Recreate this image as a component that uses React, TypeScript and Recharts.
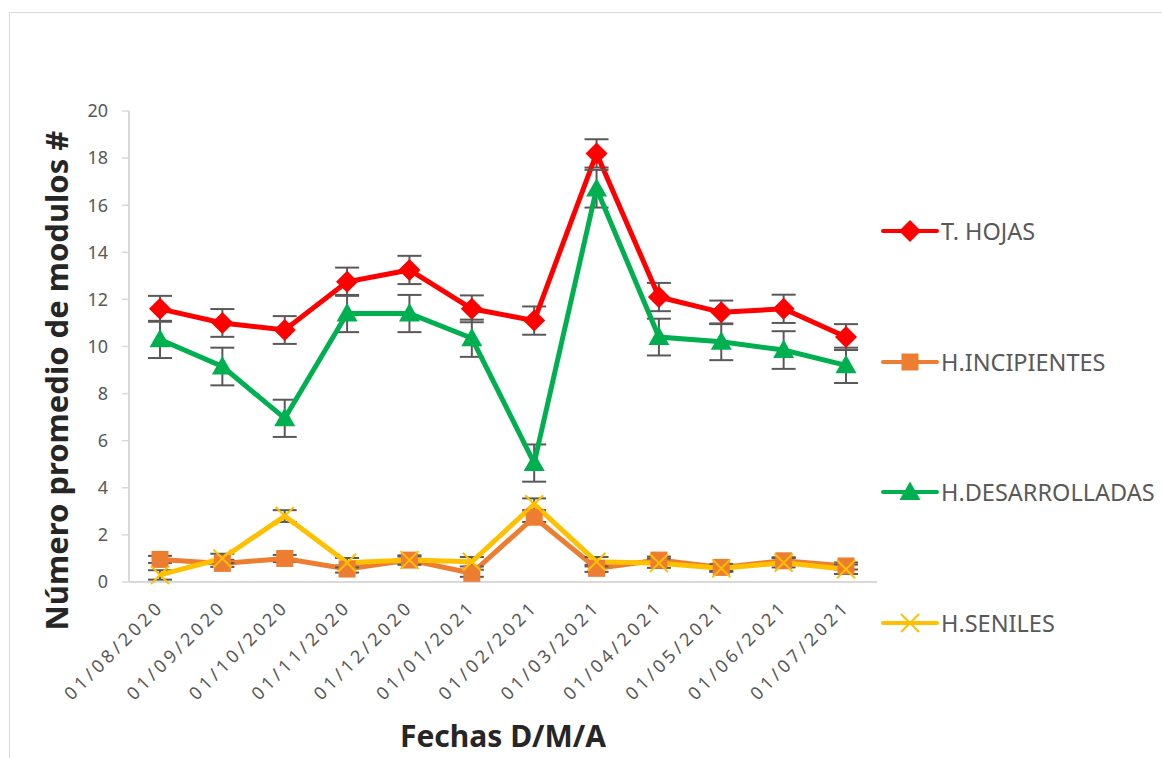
import React from 'react';
import { LineChart, Line, XAxis, YAxis, ErrorBar, Label } from 'recharts';

// fechas de muestreo
const fechas = [
  '01/08/2020', '01/09/2020', '01/10/2020', '01/11/2020', '01/12/2020', '01/01/2021',
  '01/02/2021', '01/03/2021', '01/04/2021', '01/05/2021', '01/06/2021', '01/07/2021',
];

const tHojas = [11.6, 11.0, 10.7, 12.75, 13.25, 11.6, 11.1, 18.2, 12.1, 11.45, 11.6, 10.4];
const tHojasErr = [0.55, 0.59, 0.59, 0.6, 0.6, 0.57, 0.6, 0.6, 0.6, 0.5, 0.6, 0.55];

const hIncipientes = [0.96, 0.79, 1.0, 0.55, 0.93, 0.37, 2.75, 0.58, 0.93, 0.62, 0.9, 0.68];
const hIncipientesErr = [0.15, 0.15, 0.15, 0.15, 0.15, 0.15, 0.2, 0.15, 0.15, 0.15, 0.15, 0.15];

const hDesarrolladas = [10.3, 9.15, 6.95, 11.4, 11.4, 10.35, 5.05, 16.7, 10.4, 10.2, 9.85, 9.2];
const hDesarrolladasErr = [0.79, 0.8, 0.79, 0.79, 0.79, 0.79, 0.79, 0.8, 0.78, 0.78, 0.8, 0.75];

const hSeniles = [0.3, 1.0, 2.8, 0.82, 0.93, 0.86, 3.3, 0.86, 0.8, 0.58, 0.82, 0.54];
const hSenilesErr = [0.2, 0.2, 0.25, 0.2, 0.2, 0.2, 0.25, 0.2, 0.2, 0.15, 0.2, 0.2];

const yTicks = [0, 2, 4, 6, 8, 10, 12, 14, 16, 18, 20];

const data = fechas.map((fecha, i) => ({
  fecha,
  hojas: tHojas[i],
  hojasErr: tHojasErr[i],
  incip: hIncipientes[i],
  incipErr: hIncipientesErr[i],
  desar: hDesarrolladas[i],
  desarErr: hDesarrolladasErr[i],
  senil: hSeniles[i],
  senilErr: hSenilesErr[i],
}));

const RED = '#ff0000';
const ORANGE = '#ed7d31';
const GREEN = '#00b050';
const YELLOW = '#ffc000';
const GRAY_TXT = '#595959';
const AXIS = '#d9d9d9';
const FONT = '"Noto Sans", "Open Sans", sans-serif';

const Diamond = (props: any) => {
  const { cx, cy } = props;
  if (cx == null || cy == null) return null;
  const r = 11;
  return <path d={`M${cx},${cy - r}L${cx + r},${cy}L${cx},${cy + r}L${cx - r},${cy}Z`} fill={RED} />;
};

const Square = (props: any) => {
  const { cx, cy } = props;
  if (cx == null || cy == null) return null;
  const r = 8.5;
  return <rect x={cx - r} y={cy - r} width={2 * r} height={2 * r} fill={ORANGE} />;
};

const Triangle = (props: any) => {
  const { cx, cy } = props;
  if (cx == null || cy == null) return null;
  const r = 10.5;
  return <path d={`M${cx},${cy - r}L${cx + r},${cy + r * 0.75}L${cx - r},${cy + r * 0.75}Z`} fill={GREEN} />;
};

const Cross = (props: any) => {
  const { cx, cy } = props;
  if (cx == null || cy == null) return null;
  const r = 9;
  return (
    <g stroke={YELLOW} strokeWidth={2}>
      <line x1={cx - r} y1={cy - r} x2={cx + r} y2={cy + r} />
      <line x1={cx - r} y1={cy + r} x2={cx + r} y2={cy - r} />
    </g>
  );
};

const DateTick = (props: any) => {
  const { x, y, payload } = props;
  return (
    <g transform={`translate(${x + 5},${y + 18})`}>
      <text
        transform="rotate(-45)"
        textAnchor="end"
        fill={GRAY_TXT}
        fontSize={18}
        letterSpacing={3.6}
        fontFamily={FONT}
      >
        {payload.value}
      </text>
    </g>
  );
};

const legendItems = [
  { name: 'T. HOJAS', color: RED, Marker: Diamond },
  { name: 'H.INCIPIENTES', color: ORANGE, Marker: Square },
  { name: 'H.DESARROLLADAS', color: GREEN, Marker: Triangle },
  { name: 'H.SENILES', color: YELLOW, Marker: Cross },
];

const SideLegend = () => (
  <div style={{ position: 'absolute', left: 881, top: 219 }}>
    {legendItems.map(({ name, color, Marker }) => (
      <div key={name} style={{ height: 130.5, display: 'flex', alignItems: 'flex-start' }}>
        <svg width={60} height={24} style={{ display: 'block' }}>
          <line x1={2} y1={12} x2={56} y2={12} stroke={color} strokeWidth={4} strokeLinecap="round" />
          <Marker cx={29} cy={12} />
        </svg>
        <span
          style={{
            fontFamily: FONT,
            fontSize: 23.5,
            color: GRAY_TXT,
            lineHeight: '24px',
            whiteSpace: 'nowrap',
          }}
        >
          {name}
        </span>
      </div>
    ))}
  </div>
);

export default function App() {
  return (
    <div style={{ position: 'absolute', left: 0, top: 0, width: 1162, height: 758, background: '#fff', overflow: 'hidden' }}>
      <div
        style={{
          position: 'absolute',
          left: 9,
          top: 12,
          width: 1200,
          height: 800,
          borderLeft: '1px solid #d9d9d9',
          borderTop: '1px solid #d9d9d9',
        }}
      />
      <div style={{ position: 'absolute', left: 0, top: 0 }}>
        <LineChart width={1162} height={758} data={data} margin={{ top: 111, right: 285, bottom: 56, left: 89 }}>
          <XAxis
            dataKey="fecha"
            height={120}
            padding={{ left: 31, right: 31 }}
            axisLine={{ stroke: AXIS, strokeWidth: 2 }}
            tickLine={false}
            tick={<DateTick />}
            interval={0}
          >
            <Label
              content={(p: any) => {
                const vb = p.viewBox;
                return (
                  <text
                    x={vb.x + vb.width / 2}
                    y={vb.y + 157}
                    textAnchor="middle"
                    dominantBaseline="middle"
                    fontFamily={FONT}
                    fontWeight={700}
                    fontSize={30}
                    fill="#262626"
                  >
                    Fechas D/M/A
                  </text>
                );
              }}
            />
          </XAxis>
          <YAxis
            width={40}
            domain={[0, 20]}
            ticks={yTicks}
            interval={0}
            axisLine={{ stroke: AXIS, strokeWidth: 2 }}
            tickLine={{ stroke: AXIS, strokeWidth: 1.5 }}
            tickSize={7}
            tickMargin={14}
            tick={{ fill: GRAY_TXT, fontSize: 18, fontFamily: FONT }}
          >
            <Label
              content={(p: any) => {
                const vb = p.viewBox;
                const cx = vb.x - 29;
                const cy = vb.y + vb.height / 2 + 34;
                return (
                  <text
                    x={cx}
                    y={cy}
                    transform={`rotate(-90, ${cx}, ${cy})`}
                    textAnchor="middle"
                    dominantBaseline="middle"
                    fontFamily={FONT}
                    fontWeight={700}
                    fontSize={31}
                    fill="#262626"
                  >
                    Número promedio de modulos #
                  </text>
                );
              }}
            />
          </YAxis>
          <Line
            dataKey="hojas"
            name="T. HOJAS"
            stroke={RED}
            strokeWidth={5}
            dot={<Diamond />}
            activeDot={false}
            isAnimationActive={false}
          >
            <ErrorBar dataKey="hojasErr" width={12} stroke={GRAY_TXT} strokeWidth={2} />
          </Line>
          <Line
            dataKey="desar"
            name="H.DESARROLLADAS"
            stroke={GREEN}
            strokeWidth={5}
            dot={<Triangle />}
            activeDot={false}
            isAnimationActive={false}
          >
            <ErrorBar dataKey="desarErr" width={12} stroke={GRAY_TXT} strokeWidth={2} />
          </Line>
          <Line
            dataKey="incip"
            name="H.INCIPIENTES"
            stroke={ORANGE}
            strokeWidth={5}
            dot={<Square />}
            activeDot={false}
            isAnimationActive={false}
          >
            <ErrorBar dataKey="incipErr" width={12} stroke={GRAY_TXT} strokeWidth={2} />
          </Line>
          <Line
            dataKey="senil"
            name="H.SENILES"
            stroke={YELLOW}
            strokeWidth={5}
            dot={<Cross />}
            activeDot={false}
            isAnimationActive={false}
          >
            <ErrorBar dataKey="senilErr" width={12} stroke={GRAY_TXT} strokeWidth={2} />
          </Line>
        </LineChart>
      </div>
      <SideLegend />
    </div>
  );
}
